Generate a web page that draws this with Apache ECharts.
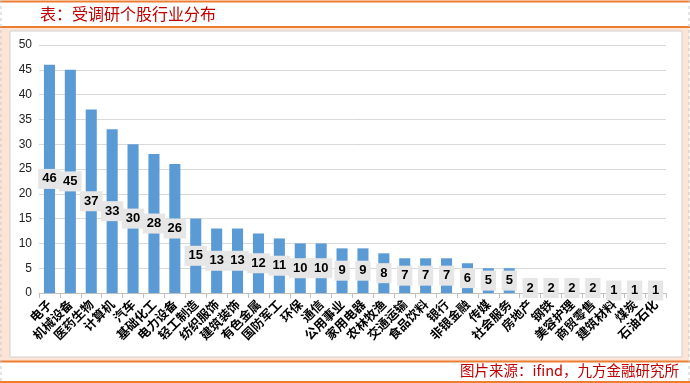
<!DOCTYPE html>
<html><head><meta charset="utf-8">
<script src="https://cdn.jsdelivr.net/npm/echarts@6/dist/echarts.min.js"></script>
<style>html,body{margin:0;padding:0;background:#fff}#c{width:690px;height:383px}</style>
</head><body><div id="c"></div>
<script>
const categories = ['电子','机械设备','医药生物','计算机','汽车','基础化工','电力设备','轻工制造','纺织服饰','建筑装饰','有色金属','国防军工','环保','通信','公用事业','家用电器','农林牧渔','交通运输','食品饮料','银行','非银金融','传媒','社会服务','房地产','钢铁','美容护理','商贸零售','建筑材料','煤炭','石油石化'];
const counts = [46,45,37,33,30,28,26,15,13,13,12,11,10,10,9,9,8,7,7,7,6,5,5,2,2,2,2,1,1,1];
const yTicks = [0,5,10,15,20,25,30,35,40,45,50];
const titleText = '表：受调研个股行业分布';
const sourceText = '图片来源：ifind，九方金融研究所';

const chart = echarts.init(document.getElementById('c'), null, {renderer:'canvas'});
chart.setOption({
  animation:false,
  backgroundColor:'#ffffff',
  graphic:[
    {type:'rect', z:-10, shape:{x:0,y:28,width:689,height:333}, style:{fill:'#fce4d6'}},
    {type:'rect', z:-9, shape:{x:10,y:31,width:672,height:326}, style:{fill:'#ffffff', stroke:'#d0d0d0', lineWidth:1}},
    {type:'line', z:-5, shape:{x1:0,y1:1.5,x2:690,y2:1.5}, style:{stroke:'#ed7d31', lineWidth:2}},
    {type:'line', z:-5, shape:{x1:0,y1:27,x2:690,y2:27}, style:{stroke:'#ed7d31', lineWidth:2}},
    {type:'line', z:-5, shape:{x1:0,y1:361.5,x2:690,y2:361.5}, style:{stroke:'#ed7d31', lineWidth:2}},
    {type:'line', z:-5, shape:{x1:0,y1:382,x2:690,y2:382}, style:{stroke:'#ed7d31', lineWidth:2}},
    {type:'line', z:-5, shape:{x1:1,y1:0,x2:1,y2:383}, style:{stroke:'#c8c8c8', lineWidth:1, lineDash:[3,3]}},
    {type:'line', z:-5, shape:{x1:689,y1:0,x2:689,y2:383}, style:{stroke:'#c8c8c8', lineWidth:1, lineDash:[3,3]}},
    {type:'text', left:40, top:6, style:{text:titleText, fill:'#c00000', font:'16px "Noto Sans CJK SC"'}},
    {type:'text', right:11, top:363, style:{text:sourceText, fill:'#c00000', font:'14.5px "Noto Sans CJK SC"'}}
  ],
  grid:{left:39, right:24, top:45, bottom:90, containLabel:false},
  xAxis:{
    type:'category', data:categories,
    axisLine:{lineStyle:{color:'#bfbfbf'}},
    axisTick:{show:true, alignWithLabel:false, length:5, lineStyle:{color:'#bfbfbf'}},
    axisLabel:{rotate:45, interval:0, margin:9, color:'#000', fontSize:12.5, fontWeight:'bold', fontFamily:'"Noto Sans CJK SC"'}
  },
  yAxis:{
    type:'value', min:0, max:50, interval:5,
    axisLine:{show:false}, axisTick:{show:false},
    axisLabel:{color:'#222', fontSize:12, fontFamily:'"Liberation Sans", Arial', margin:7},
    splitLine:{lineStyle:{color:'#d9d9d9'}}
  },
  series:[{
    type:'bar', data:counts, barWidth:'53%',
    itemStyle:{color:'#5b9bd5'},
    label:{show:true, position:'inside', color:'#000', fontSize:13, fontWeight:'bold',
      fontFamily:'"Liberation Sans", Arial', backgroundColor:'#e7e6e6', padding:[4,4,3,4]}
  }]
});
</script></body></html>
